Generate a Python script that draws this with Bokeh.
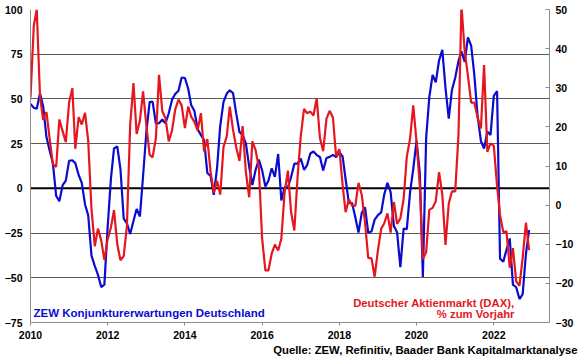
import pandas as pd
from datetime import datetime
from bokeh.plotting import figure
from bokeh.models import Range1d, LinearAxis, FixedTicker, Span, Label, Title, DatetimeTickFormatter
from bokeh.embed import file_html
from bokeh.resources import INLINE

# ZEW Konjunkturerwartungen Deutschland (monthly, Jan 2010 - Dec 2022), left axis
zew = [
    47.2, 45.1, 44.5, 53.0, 45.8, 28.7, 21.2, 14.0, -4.3, -7.2, 1.8, 4.3,
    15.4, 15.7, 14.1, 7.6, 3.1, -9.0, -15.1, -37.6, -43.3, -48.3, -55.2, -53.8,
    -21.6, 5.4, 22.3, 23.4, 10.8, -16.9, -19.6, -25.5, -18.2, -11.5, -15.7, 6.9,
    31.5, 48.2, 48.5, 36.3, 36.4, 38.5, 36.3, 42.0, 49.6, 52.8, 54.6, 62.0,
    61.7, 55.7, 46.6, 43.2, 33.1, 29.8, 27.1, 8.6, 6.9, -3.6, 11.5, 34.9,
    48.4, 53.0, 54.8, 53.3, 41.9, 31.5, 29.7, 25.0, 12.1, 1.9, 10.4, 16.1,
    10.2, 1.0, 4.3, 11.2, 6.4, 19.2, -6.8, 0.5, 0.5, 6.2, 13.8, 13.8,
    16.6, 10.4, 12.8, 19.5, 20.6, 18.6, 17.5, 10.0, 17.0, 17.6, 18.7, 17.4,
    20.4, 17.8, 5.1, -8.2, -8.2, -16.1, -24.7, -13.7, -10.6, -24.7, -24.1, -17.5,
    -15.0, -13.4, -3.6, 3.1, -2.1, -21.1, -24.5, -44.1, -22.5, -22.8, -2.1, 10.7,
    26.7, 8.7, -49.5, 28.2, 51.0, 63.4, 59.3, 71.5, 77.4, 56.1, 39.0, 55.0,
    61.8, 71.2, 76.6, 70.7, 84.4, 79.8, 63.3, 40.4, 26.5, 22.3, 31.7, 29.9,
    51.7, 54.3, -39.3, -41.0, -34.3, -28.0, -53.8, -55.3, -61.9, -59.2, -36.7, -23.3,
]

# Deutscher Aktienmarkt (DAX), % zum Vorjahr, right axis
dax = [
    27.5, 45.8, 50.0, 27.8, 21.8, 23.8, 17.0, 10.5, 9.8, 21.9, 18.9, 16.1,
    26.2, 29.9, 14.4, 22.5, 20.6, 23.6, 16.4, -1.0, -10.5, -6.0, -9.0, -14.0,
    -8.7, -5.7, -1.3, -10.0, -14.1, -13.0, -5.4, 20.5, 31.2, 18.2, 21.6, 29.1,
    20.4, 12.9, 12.2, 17.1, 33.3, 24.0, 22.2, 16.3, 19.1, 24.4, 27.0, 25.5,
    19.7, 25.2, 22.6, 21.3, 19.1, 23.5, 13.7, 16.9, 8.5, 3.2, 6.2, 2.7,
    14.9, 17.6, 25.2, 19.3, 14.8, 11.3, 20.2, 8.3, 2.0, 16.3, 14.0, 9.6,
    -8.4, -16.7, -16.7, -12.4, -10.1, -11.6, -8.6, 3.3, 8.8, -1.7, -6.5, 6.9,
    17.7, 24.6, 23.5, 23.9, 22.9, 27.3, 17.2, 13.8, 22.1, 24.1, 22.4, 12.5,
    14.3, 5.1, -1.8, 1.4, -0.1, -0.2, 5.7, 2.6, -4.5, -13.5, -13.6, -18.3,
    -11.5, -6.0, -4.7, -2.1, -7.0, 0.8, -4.8, -3.4, 1.5, 12.4, 17.0, 25.5,
    16.2, 5.0, -13.8, -12.0, -1.2, -0.7, 1.0, 8.4, 2.7, -10.2, 0.4, 3.5,
    3.5, 18.0, 51.0, 39.3, 33.1, 26.2, 26.2, 22.3, 19.6, 35.8, 13.6, 15.8,
    15.2, 4.9, -2.5, -6.9, -6.7, -16.0, -11.0, -19.5, -20.6, -13.5, -4.5, -11.5,
]

months = pd.date_range("2010-01-01", periods=len(zew), freq="MS")
year_ticks = [2010, 2012, 2014, 2016, 2018, 2020, 2022]
left_ticks = [-75, -50, -25, 0, 25, 50, 75, 100]
right_ticks = [-30, -20, -10, 0, 10, 20, 30, 40, 50]

label_zew = "ZEW Konjunkturerwartungen Deutschland"
label_dax_1 = "Deutscher Aktienmarkt (DAX),"
label_dax_2 = "% zum Vorjahr"
source_text = "Quelle: ZEW, Refinitiv, Baader Bank Kapitalmarktanalyse"

BLUE = "#0B0BCF"
RED = "#E5161D"
GRID = "#5c5c5c"
AXIS = "#8c8c8c"
FONT = "Liberation Sans"

p = figure(
    width=580, height=359,
    x_axis_type="datetime",
    x_range=Range1d(datetime(2010, 1, 1), datetime(2023, 6, 12)),
    y_range=Range1d(-75, 100),
    output_backend="svg", toolbar_location=None,
    min_border_left=30, min_border_right=31, min_border_top=9, min_border_bottom=37,
)
p.outline_line_color = None
p.background_fill_color = "white"
p.border_fill_color = "white"

p.extra_y_ranges = {"dax": Range1d(-30, 50)}

# x axis
xa = p.xaxis[0]
xa.ticker = FixedTicker(ticks=[pd.Timestamp(f"{y}-01-01").timestamp() * 1000 for y in year_ticks])
xa.formatter = DatetimeTickFormatter(years="%Y", months="%Y", days="%Y", hours="%Y")
xa.axis_line_color = AXIS
xa.major_tick_line_color = AXIS
xa.major_tick_out = 3
xa.major_tick_in = 0
xa.minor_tick_line_color = None
xa.major_label_standoff = 5

# left axis
ya = p.yaxis[0]
ya.ticker = FixedTicker(ticks=left_ticks)
ya.axis_line_color = AXIS
ya.major_tick_out = 0
ya.major_tick_in = 0
ya.minor_tick_line_color = None
ya.major_label_standoff = 8

# right axis
ra = LinearAxis(y_range_name="dax", ticker=FixedTicker(ticks=right_ticks))
ra.axis_line_color = AXIS
ra.major_tick_line_color = AXIS
ra.major_tick_in = 4
ra.major_tick_out = 0
ra.minor_tick_line_color = None
ra.major_label_standoff = 6
p.add_layout(ra, "right")

for ax in (xa, ya, ra):
    ax.major_label_text_font = FONT
    ax.major_label_text_font_style = "bold"
    ax.major_label_text_font_size = "10.5px"
    ax.major_label_text_color = "black"

p.xgrid.grid_line_color = None
p.ygrid.ticker = FixedTicker(ticks=left_ticks)
p.ygrid.grid_line_color = GRID
p.ygrid.grid_line_width = 1

p.add_layout(Span(location=0, dimension="width", line_color="black", line_width=2, level="underlay"))

p.line(months, zew, line_color=BLUE, line_width=2.2)
p.line(months, dax, line_color=RED, line_width=2.2, y_range_name="dax")

common = dict(x_units="screen", y_units="screen", text_font=FONT, text_font_style="bold",
              text_baseline="middle")
p.add_layout(Label(x=3, y=10, text=label_zew, text_color=BLUE, text_font_size="11.5px", **common))
p.add_layout(Label(x=484, y=20, text=label_dax_1, text_color=RED, text_align="right",
                   text_font_size="11.3px", **common))
p.add_layout(Label(x=484, y=9, text=label_dax_2, text_color=RED, text_align="right",
                   text_font_size="11.3px", **common))

src = Title(text=source_text, align="right", text_font=FONT, text_font_style="bold",
            text_font_size="11.3px", text_color="black", standoff=1, offset=-28)
p.add_layout(src, "below")

open("out.html", "w").write(file_html(p, INLINE))
